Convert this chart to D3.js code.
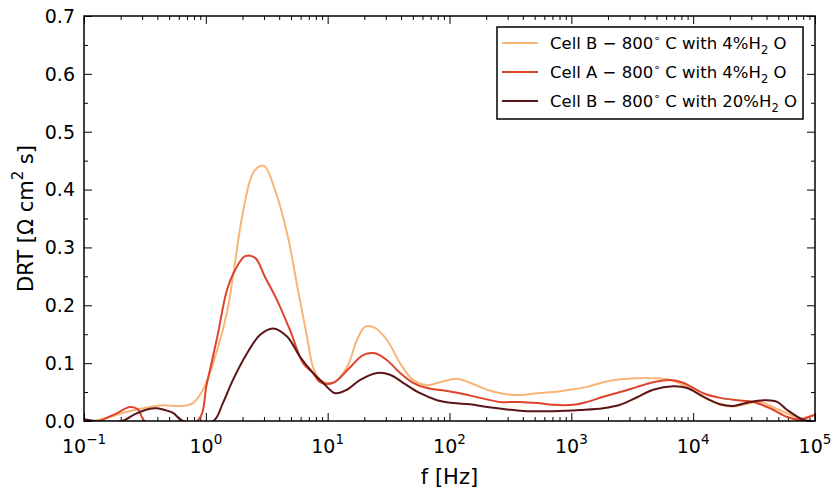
<!DOCTYPE html>
<html lang="en">
<head>
    <meta charset="UTF-8">
    <title>DRT spectra</title>
    <script src="https://d3js.org/d3.v7.min.js"></script>
    <style>
        body { margin: 0; background: white; font-family: "DejaVu Sans", sans-serif; }
        .tick line { stroke: black; stroke-width: 1; }
    </style>
</head>
<body>
    <div id="chart"></div>
    <script>
        // Cell B - 800 C with 4% H2O
        const freqB4 = [0.1, 0.119, 0.163, 0.225, 0.305, 0.421, 0.65, 0.785, 0.948, 1.24, 1.5, 1.67, 1.9, 2.1, 2.3, 2.54, 3.0, 3.7, 4.64, 5.71, 6.78, 7.59, 8.66,
            11.1, 14.4, 17.4, 20.3, 24.5, 30.7, 39.3, 50.2, 65.5, 83.7, 115, 147, 204, 276, 380, 524, 709, 977, 1349, 1824, 2517,
            3467, 4699, 6478, 8933, 12080, 16670, 21300, 27730, 35480, 45390, 59160, 75540, 96600];
        const drtB4 = [0.0, 0.0, 0.007, 0.016, 0.022, 0.027, 0.026, 0.031, 0.054, 0.123, 0.19, 0.25, 0.33, 0.38, 0.415, 0.434, 0.441, 0.399, 0.325, 0.226, 0.145, 0.093, 0.071,
            0.066, 0.093, 0.140, 0.163, 0.161, 0.140, 0.100, 0.071, 0.062, 0.067, 0.073, 0.066, 0.054, 0.047, 0.045, 0.048, 0.050, 0.054, 0.059, 0.067, 0.072,
            0.074, 0.074, 0.071, 0.059, 0.042, 0.028, 0.025, 0.030, 0.033, 0.024, 0.013, 0.005, 0.009];

        // Cell A - 800 C with 4% H2O
        const freqA4 = [0.135, 0.18, 0.239, 0.278, 0.317, 0.847, 1.02, 1.24, 1.49, 1.74, 2.1, 2.54, 3.06, 3.84, 4.91, 6.28, 7.59, 8.66,
            11.1, 15.3, 19.5, 24.5, 30.7, 39.3, 50.2, 65.5, 95.5, 122, 178, 260, 380, 524, 709, 1035, 1349, 1824, 2517,
            3467, 4699, 6478, 8280, 12080, 16670, 22970, 31120, 42860, 59160, 75540, 96600, 110000];
        const drtA4 = [0.0, 0.012, 0.024, 0.020, 0.0, 0.0, 0.065, 0.145, 0.226, 0.261, 0.285, 0.282, 0.249, 0.209, 0.157, 0.100, 0.083, 0.067,
            0.066, 0.093, 0.114, 0.117, 0.105, 0.083, 0.066, 0.057, 0.052, 0.048, 0.040, 0.033, 0.033, 0.031, 0.028, 0.028, 0.033, 0.042, 0.050,
            0.059, 0.067, 0.071, 0.066, 0.048, 0.040, 0.036, 0.033, 0.022, 0.007, 0.002, 0.010, 0.011];

        // Cell B - 800 C with 20% H2O
        const freqB20 = [0.1, 0.123, 0.205, 0.262, 0.329, 0.397, 0.462, 0.538, 0.65, 1.15, 1.38, 1.67, 2.18, 2.79, 3.56, 4.64, 5.93, 7.59, 9.17,
            11.5, 14.4, 18.5, 25.4, 32.5, 41.6, 57.4, 79.1, 107, 147, 204, 297, 434, 709, 1181, 1824, 2517,
            3467, 4699, 6860, 8933, 12080, 16670, 21300, 29380, 40550, 48980, 59160, 80000, 94800];
        const drtB20 = [0.003, 0.0, 0.0, 0.012, 0.020, 0.022, 0.019, 0.014, 0.0, 0.0, 0.031, 0.071, 0.117, 0.149, 0.160, 0.146, 0.111, 0.083, 0.066,
            0.048, 0.054, 0.071, 0.083, 0.080, 0.066, 0.048, 0.036, 0.031, 0.029, 0.024, 0.020, 0.017, 0.017, 0.019, 0.022, 0.028,
            0.041, 0.054, 0.060, 0.057, 0.042, 0.029, 0.026, 0.033, 0.036, 0.033, 0.019, 0.002, 0.0];

        const xTicks = [0.1, 1, 10, 100, 1000, 10000, 100000];
        const xTickExp = ["\u22121", "0", "1", "2", "3", "4", "5"];
        const yTicks = [0.0, 0.1, 0.2, 0.3, 0.4, 0.5, 0.6, 0.7];

        const series = [
            { name: ["Cell B \u2212 800", "4%H"], f: freqB4, v: drtB4, color: "#f8b577" },
            { name: ["Cell A \u2212 800", "4%H"], f: freqA4, v: drtA4, color: "#de432b" },
            { name: ["Cell B \u2212 800", "20%H"], f: freqB20, v: drtB20, color: "#5c1517" }
        ];

        const margin = { top: 16, right: 17, bottom: 71, left: 84 };
        const width = 832 - margin.left - margin.right;
        const height = 492 - margin.top - margin.bottom;

        const svg = d3.select("#chart")
            .append("svg")
            .attr("width", 832)
            .attr("height", 492)
            .append("g")
            .attr("transform", `translate(${margin.left},${margin.top})`);

        const x = d3.scaleLog().domain([0.1, 100000]).range([0, width]);
        const y = d3.scaleLinear().domain([0, 0.7]).range([height, 0]);

        svg.append("clipPath").attr("id", "clip")
            .append("rect").attr("width", width).attr("height", height);

        // minor log ticks
        const minors = [];
        for (let d = 0.1; d < 100000; d *= 10) {
            for (let k = 2; k <= 9; k++) minors.push(d * k);
        }
        const yMinors = d3.range(0.05, 0.7, 0.1);

        const tickAxis = (axis, scale, values, size, transform) => {
            svg.append("g")
                .attr("transform", transform || null)
                .call(axis(scale).tickValues(values).tickSize(-size).tickFormat(""))
                .call(g => g.select(".domain").remove());
        };
        tickAxis(d3.axisBottom, x, xTicks, 8, `translate(0,${height})`);
        tickAxis(d3.axisBottom, x, minors, 4, `translate(0,${height})`);
        tickAxis(d3.axisTop, x, xTicks, 8);
        tickAxis(d3.axisTop, x, minors, 4);
        tickAxis(d3.axisLeft, y, yTicks, 8);
        tickAxis(d3.axisLeft, y, yMinors, 4);
        tickAxis(d3.axisRight, y, yTicks, 8, `translate(${width},0)`);
        tickAxis(d3.axisRight, y, yMinors, 4, `translate(${width},0)`);

        // x tick labels as 10^n
        const xl = svg.append("g").selectAll("text")
            .data(xTicks)
            .enter()
            .append("text")
            .attr("x", d => x(d))
            .attr("y", height + 32)
            .attr("text-anchor", "middle")
            .style("font-size", "19px");
        xl.append("tspan").text("10");
        xl.append("tspan")
            .attr("dy", -9)
            .style("font-size", "13.5px")
            .text((d, i) => xTickExp[i]);

        svg.append("g").selectAll("text")
            .data(yTicks)
            .enter()
            .append("text")
            .attr("x", -9)
            .attr("y", d => y(d))
            .attr("dy", "0.36em")
            .attr("text-anchor", "end")
            .style("font-size", "19px")
            .text(d => d.toFixed(1));

        const line = d3.line()
            .x(d => x(d[0]))
            .y(d => y(d[1]))
            .curve(d3.curveCatmullRom.alpha(0.5));

        svg.append("g")
            .attr("clip-path", "url(#clip)")
            .selectAll("path")
            .data(series)
            .enter()
            .append("path")
            .attr("d", s => line(s.f.map((f, i) => [f, s.v[i]])))
            .attr("fill", "none")
            .attr("stroke", s => s.color)
            .attr("stroke-width", 2);

        svg.append("rect")
            .attr("width", width)
            .attr("height", height)
            .attr("fill", "none")
            .attr("stroke", "black")
            .attr("stroke-width", 1.5);

        // axis labels
        svg.append("text")
            .attr("x", width / 2)
            .attr("y", height + 63)
            .attr("text-anchor", "middle")
            .style("font-size", "21px")
            .text("f [Hz]");

        const yl = svg.append("text")
            .attr("transform", `translate(${-margin.left + 33},${height / 2}) rotate(-90)`)
            .attr("text-anchor", "middle")
            .style("font-size", "21px");
        yl.append("tspan").text("DRT [\u03a9 cm");
        yl.append("tspan").attr("dy", -10).style("font-size", "15px").text("2");
        yl.append("tspan").attr("dy", 10).text(" s]");

        // legend
        const legend = svg.append("g").attr("transform", `translate(${497 - margin.left},${27 - margin.top})`);
        legend.append("rect")
            .attr("width", 306)
            .attr("height", 92)
            .attr("fill", "white")
            .attr("stroke", "black")
            .attr("stroke-width", 1.5);

        series.forEach((s, i) => {
            const ly = 16 + i * 29;
            legend.append("line")
                .attr("x1", 5).attr("x2", 41)
                .attr("y1", ly).attr("y2", ly)
                .attr("stroke", s.color)
                .attr("stroke-width", 2);
            const t = legend.append("text")
                .attr("x", 53)
                .attr("y", ly + 6)
                .style("font-size", "16.5px");
            t.append("tspan").text(s.name[0]);
            t.append("tspan").attr("dy", -7).style("font-size", "11px").text("\u2218");
            t.append("tspan").attr("dy", 7).text(" C with " + s.name[1]);
            t.append("tspan").attr("dy", 5).style("font-size", "11.5px").text("2");
            t.append("tspan").attr("dy", -5).text(" O");
        });
    </script>
</body>
</html>
